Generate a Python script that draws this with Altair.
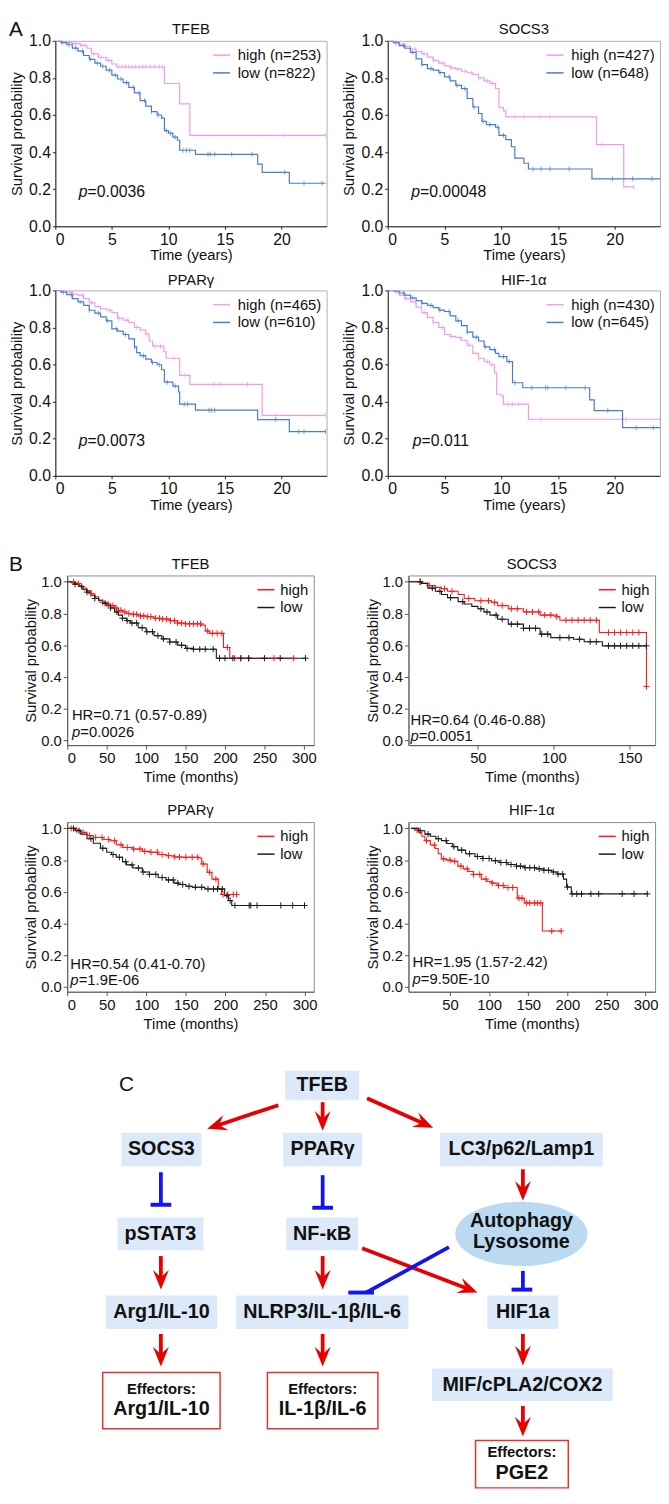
import altair as alt
import numpy as np
import pandas as pd

FONT = "Liberation Sans"

# ================= Panel A (time in years) =================
A_TFEB_HIGH_T = [0, 0.8, 1.5, 2.2, 2.8, 3.2, 3.8, 4.5, 5.0, 5.4, 9.65, 11.0, 11.9, 23.9]
A_TFEB_HIGH_S = [1.0, 0.99, 0.985, 0.975, 0.96, 0.93, 0.91, 0.895, 0.875, 0.86, 0.77, 0.66, 0.49, 0.49]
A_TFEB_LOW_T = [0, 0.5, 1.0, 1.5, 2.0, 2.5, 3.0, 3.5, 4.0, 4.5, 5.0, 5.5, 6.0, 6.5, 7.0, 7.5, 8.0, 8.5, 9.0, 9.4, 9.65, 10.0, 10.4, 10.8, 11.0, 12.4, 17.9, 18.3, 20.7, 23.9]
A_TFEB_LOW_S = [1.0, 0.99, 0.979, 0.961, 0.944, 0.921, 0.90, 0.88, 0.863, 0.842, 0.815, 0.794, 0.775, 0.749, 0.719, 0.678, 0.648, 0.618, 0.60, 0.583, 0.516, 0.502, 0.481, 0.464, 0.41, 0.388, 0.335, 0.291, 0.232, 0.232]
A_TFEB_HIGH_C = [1.2, 1.8, 2.3, 2.6, 3.4, 4.0, 4.7, 5.6, 5.9, 6.2, 6.5, 6.8, 7.1, 7.4, 7.7, 8.0, 8.4, 8.8, 9.2, 9.5, 20.2, 23.9]
A_TFEB_LOW_C = [0.6, 1.2, 1.8, 2.4, 3.1, 3.7, 4.2, 4.8, 5.3, 5.8, 6.3, 6.9, 7.4, 7.9, 8.5, 9.1, 9.8, 10.2, 10.6, 11.3, 11.6, 11.9, 13.5, 13.7, 14.1, 15.6, 17.4, 20.3, 22.0, 23.6]

A_SOCS3_HIGH_T = [0, 0.5, 1.0, 1.5, 2.0, 2.5, 3.0, 3.5, 4.0, 4.5, 5.0, 5.5, 6.0, 6.5, 7.0, 7.5, 8.0, 8.5, 9.0, 9.5, 9.8, 10.2, 10.4, 18.4, 20.8, 21.7]
A_SOCS3_HIGH_S = [1.0, 0.995, 0.982, 0.97, 0.956, 0.942, 0.93, 0.912, 0.895, 0.88, 0.865, 0.854, 0.847, 0.836, 0.828, 0.819, 0.80, 0.784, 0.771, 0.742, 0.64, 0.622, 0.59, 0.44, 0.212, 0.212]
A_SOCS3_LOW_T = [0, 0.5, 1.0, 1.5, 2.0, 2.5, 3.0, 3.5, 4.0, 4.5, 5.0, 5.5, 6.0, 6.5, 7.0, 7.5, 8.0, 8.3, 8.7, 9.5, 9.8, 10.4, 10.9, 11.2, 12.0, 12.4, 18.0, 24.0]
A_SOCS3_LOW_S = [1.0, 0.99, 0.974, 0.96, 0.938, 0.903, 0.872, 0.85, 0.842, 0.829, 0.806, 0.784, 0.76, 0.742, 0.689, 0.643, 0.608, 0.566, 0.548, 0.534, 0.49, 0.467, 0.429, 0.367, 0.34, 0.309, 0.256, 0.256]
A_SOCS3_HIGH_C = [0.8, 1.6, 2.4, 3.2, 4.0, 4.8, 5.6, 6.2, 6.8, 7.4, 8.0, 8.8, 9.2, 11.2, 12.0, 13.4, 14.3, 18.9, 21.7]
A_SOCS3_LOW_C = [0.7, 1.4, 2.2, 3.0, 3.8, 4.6, 5.4, 6.1, 6.8, 7.6, 8.4, 9.0, 9.7, 10.2, 12.8, 13.5, 14.3, 16.0, 19.8, 21.6, 23.3]

A_PPARG_HIGH_T = [0, 0.5, 1.0, 1.5, 2.0, 2.5, 3.0, 3.5, 4.0, 4.5, 5.0, 5.5, 6.0, 6.5, 7.0, 7.5, 8.0, 8.3, 8.6, 9.6, 9.8, 11.0, 11.9, 18.3, 23.9]
A_PPARG_HIGH_S = [1.0, 0.998, 0.989, 0.98, 0.974, 0.956, 0.933, 0.912, 0.901, 0.893, 0.88, 0.85, 0.84, 0.827, 0.80, 0.787, 0.766, 0.727, 0.699, 0.669, 0.634, 0.542, 0.493, 0.326, 0.326]
A_PPARG_LOW_T = [0, 0.5, 1.0, 1.5, 2.0, 2.5, 3.0, 3.5, 4.0, 4.5, 5.0, 5.5, 6.0, 6.5, 7.0, 7.2, 7.5, 8.0, 8.5, 9.0, 9.4, 9.65, 10.4, 10.9, 11.0, 12.4, 17.9, 20.7, 23.9]
A_PPARG_LOW_S = [1.0, 0.991, 0.977, 0.956, 0.938, 0.919, 0.893, 0.877, 0.857, 0.836, 0.792, 0.78, 0.762, 0.739, 0.695, 0.664, 0.648, 0.629, 0.611, 0.599, 0.572, 0.505, 0.484, 0.452, 0.387, 0.354, 0.303, 0.238, 0.238]
A_PPARG_HIGH_C = [0.8, 1.6, 2.4, 3.2, 4.0, 4.8, 5.6, 6.4, 7.2, 8.0, 8.8, 9.3, 10.5, 11.4, 14.0, 14.6, 17.0, 19.5, 23.9]
A_PPARG_LOW_C = [0.7, 1.4, 2.2, 3.0, 3.8, 4.6, 5.4, 6.2, 7.0, 7.8, 8.6, 9.2, 9.9, 10.6, 11.4, 11.7, 13.6, 13.8, 14.1, 19.5, 21.5, 22.0, 23.9]

A_HIF_HIGH_T = [0, 0.5, 1.0, 1.5, 2.0, 2.5, 3.0, 3.5, 4.0, 4.5, 5.0, 5.5, 6.0, 6.5, 7.0, 7.5, 8.0, 8.5, 9.0, 9.4, 9.6, 10.0, 10.2, 12.4, 24.0]
A_HIF_HIGH_S = [1.0, 0.995, 0.974, 0.956, 0.938, 0.91, 0.88, 0.854, 0.827, 0.80, 0.762, 0.752, 0.745, 0.731, 0.704, 0.66, 0.634, 0.616, 0.599, 0.555, 0.44, 0.431, 0.387, 0.305, 0.305]
A_HIF_LOW_T = [0, 0.5, 1.0, 1.5, 2.0, 2.5, 3.0, 3.5, 4.0, 4.5, 5.0, 5.5, 6.0, 6.5, 7.0, 7.5, 8.0, 8.5, 9.0, 9.5, 9.8, 10.5, 11.0, 11.9, 17.8, 18.2, 20.7, 24.0]
A_HIF_LOW_S = [1.0, 0.998, 0.986, 0.974, 0.96, 0.945, 0.93, 0.919, 0.907, 0.894, 0.886, 0.863, 0.836, 0.81, 0.775, 0.748, 0.727, 0.695, 0.681, 0.66, 0.643, 0.616, 0.502, 0.475, 0.41, 0.352, 0.26, 0.26]
A_HIF_HIGH_C = [0.8, 1.6, 2.4, 3.2, 4.0, 4.8, 5.6, 6.4, 7.2, 8.0, 8.8, 9.2, 10.6, 11.0, 11.5, 13.5, 21.0, 24.0]
A_HIF_LOW_C = [0.7, 1.4, 2.2, 3.0, 3.8, 4.6, 5.4, 6.2, 7.0, 7.8, 8.6, 9.4, 10.2, 10.7, 11.2, 12.7, 13.9, 14.1, 15.7, 17.4, 19.4, 21.9, 23.4]

# ================= Panel B (time in months) =================
B_TFEB_HIGH_T = [0, 5, 10, 15, 20, 25, 30, 35, 40, 45, 50, 55, 60, 65, 70, 75, 80, 90, 100, 110, 120, 130, 140, 150, 170, 175, 180, 198, 206, 287]
B_TFEB_HIGH_S = [1.0, 0.998, 0.99, 0.975, 0.96, 0.945, 0.925, 0.905, 0.885, 0.87, 0.86, 0.85, 0.835, 0.82, 0.81, 0.80, 0.795, 0.785, 0.78, 0.77, 0.765, 0.755, 0.74, 0.735, 0.727, 0.69, 0.675, 0.586, 0.518, 0.518]
B_TFEB_LOW_T = [0, 5, 10, 15, 20, 25, 30, 35, 40, 45, 50, 55, 60, 65, 70, 75, 80, 90, 100, 110, 120, 130, 140, 150, 160, 189, 302]
B_TFEB_LOW_S = [1.0, 0.995, 0.985, 0.97, 0.95, 0.935, 0.915, 0.895, 0.88, 0.865, 0.85, 0.835, 0.81, 0.79, 0.77, 0.755, 0.74, 0.71, 0.685, 0.66, 0.64, 0.62, 0.60, 0.58, 0.575, 0.518, 0.518]
B_TFEB_HIGH_C = [8, 14, 30, 45, 52, 58, 62, 68, 73, 78, 84, 88, 93, 97, 102, 106, 112, 117, 121, 126, 131, 136, 140, 145, 150, 155, 160, 165, 169, 178, 184, 190, 196, 203, 212, 220, 230, 262, 287]
B_TFEB_LOW_C = [10, 18, 25, 35, 48, 55, 63, 70, 76, 82, 88, 95, 101, 108, 115, 122, 130, 138, 145, 152, 160, 168, 175, 185, 193, 200, 210, 220, 230, 250, 270, 302]

B_SOCS3_HIGH_T = [4.3, 13, 17, 22, 26, 30, 37, 41, 48, 59, 63, 70, 80, 91, 102, 104, 130, 161]
B_SOCS3_HIGH_S = [1.0, 0.99, 0.976, 0.965, 0.956, 0.94, 0.92, 0.895, 0.88, 0.87, 0.85, 0.83, 0.81, 0.79, 0.78, 0.758, 0.68, 0.34]
B_SOCS3_LOW_T = [4.3, 13, 17, 22, 26, 30, 37, 41, 46, 50, 54, 58, 63, 70, 80, 91, 98, 113, 120, 132, 161]
B_SOCS3_LOW_S = [1.0, 0.99, 0.96, 0.94, 0.92, 0.90, 0.875, 0.86, 0.845, 0.83, 0.81, 0.79, 0.764, 0.733, 0.707, 0.67, 0.648, 0.638, 0.622, 0.596, 0.596]
B_SOCS3_HIGH_C = [12, 18, 28, 33, 44, 52, 57, 61, 66, 72, 76, 82, 86, 90, 94, 98, 102, 108, 112, 116, 120, 124, 128, 136, 140, 144, 148, 152, 156, 161]
B_SOCS3_LOW_C = [12, 20, 25, 32, 40, 52, 56, 62, 66, 72, 76, 80, 84, 88, 92, 96, 104, 110, 117, 124, 128, 136, 140, 144, 148, 152, 156, 161]

B_PPARG_HIGH_T = [0, 10, 17, 25, 33, 45, 54, 62, 70, 83, 95, 104, 115, 125, 135, 145, 166, 170, 177, 183, 191, 195, 214]
B_PPARG_HIGH_S = [1.0, 0.99, 0.975, 0.955, 0.943, 0.93, 0.922, 0.897, 0.88, 0.87, 0.855, 0.85, 0.835, 0.828, 0.82, 0.818, 0.813, 0.776, 0.723, 0.68, 0.618, 0.583, 0.583]
B_PPARG_LOW_T = [0, 10, 17, 25, 33, 42, 50, 56, 62, 70, 75, 83, 95, 104, 115, 125, 135, 141, 150, 158, 174, 199, 204, 208, 301]
B_PPARG_LOW_S = [1.0, 0.985, 0.964, 0.935, 0.906, 0.875, 0.85, 0.835, 0.818, 0.79, 0.77, 0.75, 0.725, 0.71, 0.69, 0.675, 0.655, 0.646, 0.635, 0.629, 0.618, 0.576, 0.545, 0.514, 0.514]
B_PPARG_HIGH_C = [5, 12, 20, 28, 36, 44, 52, 60, 68, 76, 84, 92, 98, 106, 114, 120, 128, 136, 142, 150, 158, 165, 172, 180, 188, 197, 203, 210, 214]
B_PPARG_LOW_C = [8, 15, 30, 45, 58, 66, 74, 82, 90, 96, 104, 112, 120, 128, 134, 140, 146, 154, 162, 170, 178, 185, 190, 196, 202, 206, 212, 230, 232, 240, 270, 285, 300]

B_HIF_HIGH_T = [0, 5, 10, 14, 18, 25, 31, 35, 39, 45, 52, 60, 67, 73, 80, 90, 97, 103, 110, 119, 136, 145, 168, 192]
B_HIF_HIGH_S = [1.0, 0.99, 0.974, 0.95, 0.923, 0.895, 0.873, 0.84, 0.808, 0.80, 0.792, 0.762, 0.745, 0.728, 0.71, 0.68, 0.665, 0.655, 0.64, 0.627, 0.56, 0.53, 0.353, 0.353]
B_HIF_LOW_T = [0, 10, 18, 25, 32, 39, 46, 53, 60, 70, 82, 92, 103, 113, 124, 135, 145, 160, 170, 180, 187, 195, 199, 205, 302]
B_HIF_LOW_S = [1.0, 0.985, 0.964, 0.95, 0.935, 0.923, 0.905, 0.885, 0.863, 0.84, 0.823, 0.81, 0.796, 0.785, 0.772, 0.762, 0.752, 0.745, 0.736, 0.725, 0.712, 0.68, 0.63, 0.587, 0.587]
B_HIF_HIGH_C = [8, 20, 30, 42, 50, 56, 64, 72, 80, 88, 96, 104, 112, 118, 124, 130, 138, 142, 148, 152, 158, 162, 166, 180, 192]
B_HIF_LOW_C = [12, 22, 35, 45, 55, 65, 75, 85, 92, 100, 108, 115, 122, 128, 135, 140, 146, 152, 158, 164, 170, 176, 182, 188, 194, 200, 206, 212, 218, 230, 240, 270, 285, 302]

Y_TICKS = [0.0, 0.2, 0.4, 0.6, 0.8, 1.0]
A_X_TICKS = [0, 5, 10, 15, 20]
B_X_TICKS = [0, 50, 100, 150, 200, 250, 300]
B_X_TICKS_SOCS3 = [50, 100, 150]
B_X_TICKS_HIF = [50, 100, 150, 200, 250, 300]

A_COLORS = ["#ee9cec", "#4a7cc7"]
B_COLORS = ["#ff1a1a", "#1a1a1a"]
CROSS = "M-1,0L1,0M0,-1L0,1"


def spacer(w):
    return alt.Chart(pd.DataFrame({"a": [0]})).mark_point(opacity=0).properties(
        width=w, height=1, view=alt.ViewBackground(stroke="transparent"))


def extent_marker(top, bottom):
    # invisible rule that fixes the vertical extent of a row
    return alt.Chart(pd.DataFrame({"a": [0]})).mark_rule(opacity=0, strokeWidth=0.01).encode(
        x=alt.value(0), y=alt.value(top), y2=alt.value(bottom))


def km_panel(kind, title, curves, censors, labels, colors, xdom, xticks, ann,
             width, height, ext, title_y, letter=None):
    if kind == "A":
        ydom = [0, 1.0]
        frame = "#b0b0b0"
        axc = "#222222"
        lfs = 16
        tick = 3
        lw = 1.2
        xtitle = "Time (years)"
        ytp = 4
        xtp = 1
        loff = 7
    else:
        ydom = [-0.03, 1.04]
        frame = "#8c8c8c"
        axc = "#555555"
        lfs = 15
        tick = 4
        lw = 1.1
        xtitle = "Time (months)"
        ytp = 2
        xtp = 4
        loff = 5

    rows, crow = [], []
    for (T, S), C, lab in zip(curves, censors, labels):
        rows.append(pd.DataFrame({"t": T, "s": S, "g": lab}))
        idx = np.searchsorted(np.array(T), np.array(C), side="right") - 1
        crow.append(pd.DataFrame({"t": C, "s": np.array(S)[idx], "g": lab}))
    line_df = pd.concat(rows, ignore_index=True)
    cens_df = pd.concat(crow, ignore_index=True)

    xs = alt.Scale(domain=xdom, nice=False, zero=False)
    ysc = alt.Scale(domain=ydom, nice=False, zero=False)
    xax = alt.Axis(values=xticks, title=xtitle, labelFontSize=lfs, titleFontSize=15,
                   tickSize=tick, labelPadding=2, titlePadding=xtp, domainColor=axc,
                   tickColor=axc, grid=False, labelFont=FONT, titleFont=FONT,
                   titleFontWeight="normal", labelColor="#111111", titleColor="#111111")
    yax = alt.Axis(values=Y_TICKS, format=".1f", title="Survival probability",
                   labelFontSize=lfs, titleFontSize=15, tickSize=tick, labelPadding=2,
                   titlePadding=ytp, domainColor=axc, tickColor=axc, grid=False,
                   labelFont=FONT, titleFont=FONT, titleFontWeight="normal",
                   labelColor="#111111", titleColor="#111111")
    X = alt.X("t:Q", scale=xs, axis=xax)
    Y = alt.Y("s:Q", scale=ysc, axis=yax)
    cscale = alt.Scale(domain=labels, range=colors)

    legend = alt.Legend(orient="top-right", offset=5, padding=0, labelFontSize=15,
                        labelFont=FONT, labelColor="#111111", symbolType="stroke",
                        symbolSize=300, symbolStrokeWidth=1.5, labelOffset=loff,
                        rowPadding=0)
    lines = alt.Chart(line_df).mark_line(interpolate="step-after", strokeWidth=lw,
                                          clip=True).encode(
        X, Y, color=alt.Color("g:N", scale=cscale, title=None, legend=legend))
    if kind == "A":
        cmark = alt.Chart(cens_df).mark_tick(orient="vertical", size=5, thickness=1,
                                              clip=True)
    else:
        cmark = alt.Chart(cens_df).mark_point(shape=CROSS, size=40, filled=False,
                                               strokeWidth=1, opacity=1, clip=True)
    cens = cmark.encode(X, Y, color=alt.Color("g:N", scale=cscale, legend=None))

    layers = [lines, cens]
    fs = 16 if kind == "A" else 15
    pdx = 9 if kind == "A" else 8.5
    if kind == "B":
        layers.append(alt.Chart(pd.DataFrame({"t": [ann["x"]], "s": [ann["hy"]],
                                              "txt": [ann["hr"]]})).mark_text(
            align="left", baseline="middle", fontSize=fs, font=FONT, color="#111111"
        ).encode(X, Y, text="txt:N"))
    layers.append(alt.Chart(pd.DataFrame({"t": [ann["x"]], "s": [ann["py"]],
                                          "txt": ["p"]})).mark_text(
        align="left", baseline="middle", fontSize=fs, font=FONT, fontStyle="italic",
        color="#111111").encode(X, Y, text="txt:N"))
    layers.append(alt.Chart(pd.DataFrame({"t": [ann["x"]], "s": [ann["py"]],
                                          "txt": [ann["p"]]})).mark_text(
        align="left", baseline="middle", fontSize=fs, font=FONT, dx=pdx,
        color="#111111").encode(X, Y, text="txt:N"))
    # panel title
    layers.append(alt.Chart(pd.DataFrame({"txt": [title]})).mark_text(
        align="center", baseline="middle", fontSize=15, font=FONT, color="#111111"
    ).encode(x=alt.value(width / 2), y=alt.value(title_y), text="txt:N"))
    if letter is not None:
        layers.append(alt.Chart(pd.DataFrame({"txt": [letter[0]]})).mark_text(
            align="left", baseline="top", fontSize=21, font=FONT, color="#111111"
        ).encode(x=alt.value(letter[1]), y=alt.value(letter[2]), text="txt:N"))
    layers.append(extent_marker(ext[0], ext[1]))

    return alt.layer(*layers).properties(
        width=width, height=height,
        view=alt.ViewBackground(stroke=frame, strokeWidth=1))


AW1, AW2, AH = 275, 276, 188
BW, BH = 250, 172
EXT_A1 = (-22, 228)
EXT_A2 = (-23, 238)
EXT_B1 = (-49, 220)
EXT_B2 = (-28, 222)

a_tfeb = km_panel("A", "TFEB",
                  [(A_TFEB_HIGH_T, A_TFEB_HIGH_S), (A_TFEB_LOW_T, A_TFEB_LOW_S)],
                  [A_TFEB_HIGH_C, A_TFEB_LOW_C], ["high (n=253)", "low (n=822)"],
                  A_COLORS, [0, 24], A_X_TICKS, {"x": 2.07, "py": 0.185, "p": "=0.0036"},
                  AW1, AH, EXT_A1, -12, letter=("A", -47, -22))
a_socs3 = km_panel("A", "SOCS3",
                   [(A_SOCS3_HIGH_T, A_SOCS3_HIGH_S), (A_SOCS3_LOW_T, A_SOCS3_LOW_S)],
                   [A_SOCS3_HIGH_C, A_SOCS3_LOW_C], ["high (n=427)", "low (n=648)"],
                   A_COLORS, [0, 24], A_X_TICKS, {"x": 2.06, "py": 0.185, "p": "=0.00048"},
                   AW2, AH, EXT_A1, -12)
a_pparg = km_panel("A", "PPARγ",
                   [(A_PPARG_HIGH_T, A_PPARG_HIGH_S), (A_PPARG_LOW_T, A_PPARG_LOW_S)],
                   [A_PPARG_HIGH_C, A_PPARG_LOW_C], ["high (n=465)", "low (n=610)"],
                   A_COLORS, [0, 24], A_X_TICKS, {"x": 2.07, "py": 0.185, "p": "=0.0073"},
                   AW1, AH, EXT_A2, -10)
a_hif = km_panel("A", "HIF-1α",
                 [(A_HIF_HIGH_T, A_HIF_HIGH_S), (A_HIF_LOW_T, A_HIF_LOW_S)],
                 [A_HIF_HIGH_C, A_HIF_LOW_C], ["high (n=430)", "low (n=645)"],
                 A_COLORS, [0, 24], A_X_TICKS, {"x": 2.2, "py": 0.185, "p": "=0.011"},
                 AW2, AH, EXT_A2, -10)

b_tfeb = km_panel("B", "TFEB",
                  [(B_TFEB_HIGH_T, B_TFEB_HIGH_S), (B_TFEB_LOW_T, B_TFEB_LOW_S)],
                  [B_TFEB_HIGH_C, B_TFEB_LOW_C], ["high", "low"], B_COLORS,
                  [0, 312.5], B_X_TICKS,
                  {"x": 6, "hy": 0.16, "py": 0.05, "hr": "HR=0.71 (0.57-0.89)", "p": "=0.0026"},
                  BW, BH, EXT_B1, -12, letter=("B", -59, -22))
b_socs3 = km_panel("B", "SOCS3",
                   [(B_SOCS3_HIGH_T, B_SOCS3_HIGH_S), (B_SOCS3_LOW_T, B_SOCS3_LOW_S)],
                   [B_SOCS3_HIGH_C, B_SOCS3_LOW_C], ["high", "low"], B_COLORS,
                   [4.3, 166.7], B_X_TICKS_SOCS3,
                   {"x": 5.6, "hy": 0.13, "py": 0.025, "hr": "HR=0.64 (0.46-0.88)", "p": "=0.0051"},
                   BW, BH, EXT_B1, -12)
b_pparg = km_panel("B", "PPARγ",
                   [(B_PPARG_HIGH_T, B_PPARG_HIGH_S), (B_PPARG_LOW_T, B_PPARG_LOW_S)],
                   [B_PPARG_HIGH_C, B_PPARG_LOW_C], ["high", "low"], B_COLORS,
                   [0, 311.7], B_X_TICKS,
                   {"x": 4, "hy": 0.145, "py": 0.044, "hr": "HR=0.54 (0.41-0.70)", "p": "=1.9E-06"},
                   BW, BH, EXT_B2, -12)
b_hif = km_panel("B", "HIF-1α",
                 [(B_HIF_HIGH_T, B_HIF_HIGH_S), (B_HIF_LOW_T, B_HIF_LOW_S)],
                 [B_HIF_HIGH_C, B_HIF_LOW_C], ["high", "low"], B_COLORS,
                 [-3, 312], B_X_TICKS_HIF,
                 {"x": 2.1, "hy": 0.157, "py": 0.048, "hr": "HR=1.95 (1.57-2.42)", "p": "=9.50E-10"},
                 BW, BH, EXT_B2, -12)

# ================= Panel C (pathway diagram) =================
NODE_LABEL = ["TFEB", "SOCS3", "PPARγ", "LC3/p62/Lamp1", "pSTAT3", "NF-κB",
              "Arg1/IL-10", "NLRP3/IL-1β/IL-6", "HIF1a", "MIF/cPLA2/COX2"]
NODE_X = [325.5, 162.5, 326, 527.5, 161.5, 325.5, 162.5, 325.5, 529, 528.5]
NODE_Y = [1085, 1150, 1150, 1150, 1235.5, 1235.5, 1315, 1315, 1315, 1388.5]
NODE_W = [75, 81, 80, 165, 87, 73, 113, 175, 72, 183]
NODE_H = [30, 34, 34, 34, 33, 33, 34, 34, 34, 33]

ELL_X, ELL_Y, ELL_W, ELL_H = 527.5, 1235.5, 134, 65
ELL_TEXT = ["Autophagy", "Lysosome"]
ELL_TEXT_Y = [1223, 1244]

EFF_X = [162.5, 326, 528]
EFF_Y = [1404.5, 1404.5, 1469]
EFF_W = [119, 112, 94]
EFF_H = [57, 57, 48]
EFF_HEAD = ["Effectors:", "Effectors:", "Effectors:"]
EFF_LINE2 = ["Arg1/IL-10", "IL-1β/IL-6", "PGE2"]

ACT_X1 = [281, 326, 371, 529, 162, 326, 366, 162, 326, 529, 529]
ACT_Y1 = [1105, 1102, 1098, 1170, 1258, 1258, 1250, 1337, 1337, 1337, 1410]
ACT_X2 = [209, 326, 438, 529, 162, 326, 483, 162, 326, 529, 529]
ACT_Y2 = [1129, 1131, 1128, 1202, 1292, 1292, 1295, 1370, 1370, 1369, 1441]

INH_X1 = [162, 326, 454, 529]
INH_Y1 = [1173, 1176, 1249, 1273]
INH_X2 = [162, 326, 370, 529]
INH_Y2 = [1206, 1209, 1295, 1292]
INH_BAR_CX = [162, 326, 365, 528]
INH_BAR_HALF = [10.5, 10.5, 13, 10.5]

RED = "#e60000"
BLUE = "#1414f0"
BOX_FILL = "#dce9f8"
ELL_FILL = "#bcd9f2"
ARROW = "M0,1L-0.65,-0.6L0,0L0.65,-0.6Z"
HEAD_SIDE = 25
ELLIPSE = "M-1,0A1,0.485,0,1,1,1,0A1,0.485,0,1,1,-1,0Z"

DW, DH = 600, 426
dxs = alt.Scale(domain=[55, 655], nice=False, zero=False)
dys = alt.Scale(domain=[1068, 1494], nice=False, zero=False, reverse=True)

nodes = pd.DataFrame({"label": NODE_LABEL, "cx": NODE_X, "cy": NODE_Y, "w": NODE_W, "h": NODE_H})
nodes["x1"] = nodes.cx - nodes.w / 2
nodes["x2"] = nodes.cx + nodes.w / 2
nodes["y1"] = nodes.cy - nodes.h / 2
nodes["y2"] = nodes.cy + nodes.h / 2

eff = pd.DataFrame({"cx": EFF_X, "cy": EFF_Y, "w": EFF_W, "h": EFF_H,
                    "head": EFF_HEAD, "line2": EFF_LINE2})
eff["x1"] = eff.cx - eff.w / 2
eff["x2"] = eff.cx + eff.w / 2
eff["y1"] = eff.cy - eff.h / 2
eff["y2"] = eff.cy + eff.h / 2
eff["hy"] = eff.cy - 12
eff["ly"] = eff.cy + 9

act = pd.DataFrame({"x1": ACT_X1, "y1": ACT_Y1, "x2": ACT_X2, "y2": ACT_Y2})
ddx = act.x2 - act.x1
ddy = act.y2 - act.y1
dl = np.hypot(ddx, ddy)
act["lx"] = act.x2 - ddx / dl * 10
act["ly"] = act.y2 - ddy / dl * 10
act["hx"] = act.x2 - ddx / dl * (HEAD_SIDE / 2)
act["hy"] = act.y2 - ddy / dl * (HEAD_SIDE / 2)
act["ang"] = (np.degrees(np.arctan2(-ddx, ddy)) + 360) % 360

inh = pd.DataFrame({"x1": INH_X1, "y1": INH_Y1, "x2": INH_X2, "y2": INH_Y2,
                    "bc": INH_BAR_CX, "bh": INH_BAR_HALF})
inh["bx1"] = inh.bc - inh.bh
inh["bx2"] = inh.bc + inh.bh

ell = pd.DataFrame({"cx": [ELL_X], "cy": [ELL_Y]})
ell_txt = pd.DataFrame({"cx": [ELL_X, ELL_X], "cy": ELL_TEXT_Y, "t": ELL_TEXT})


def DX(f):
    return alt.X(f, scale=dxs, axis=None)


def DY(f):
    return alt.Y(f, scale=dys, axis=None)


d_boxes = alt.Chart(nodes).mark_rect(fill=BOX_FILL).encode(
    x=DX("x1:Q"), x2="x2:Q", y=DY("y1:Q"), y2="y2:Q")
d_eff = alt.Chart(eff).mark_rect(fill="white", stroke="#e23434", strokeWidth=1.5).encode(
    x=DX("x1:Q"), x2="x2:Q", y=DY("y1:Q"), y2="y2:Q")
d_ell = alt.Chart(ell).mark_point(shape=ELLIPSE, size=ELL_W ** 2, filled=True,
                                   fill=ELL_FILL, opacity=1, strokeWidth=0).encode(
    x=DX("cx:Q"), y=DY("cy:Q"))
d_red = alt.Chart(act).mark_rule(color=RED, strokeWidth=3.8).encode(
    x=DX("x1:Q"), y=DY("y1:Q"), x2="lx:Q", y2="ly:Q")
d_head = alt.Chart(act).mark_point(shape=ARROW, size=HEAD_SIDE ** 2, filled=True, fill=RED,
                                    opacity=1, strokeWidth=0).encode(
    x=DX("hx:Q"), y=DY("hy:Q"), angle=alt.Angle("ang:Q", scale=None))
d_blue = alt.Chart(inh).mark_rule(color=BLUE, strokeWidth=3.8).encode(
    x=DX("x1:Q"), y=DY("y1:Q"), x2="x2:Q", y2="y2:Q")
d_bar = alt.Chart(inh).mark_rule(color=BLUE, strokeWidth=4).encode(
    x=DX("bx1:Q"), y=DY("y2:Q"), x2="bx2:Q")
d_ntext = alt.Chart(nodes).mark_text(font=FONT, fontWeight="bold", fontSize=20,
                                     color="#111111", baseline="middle").encode(
    x=DX("cx:Q"), y=DY("cy:Q"), text="label:N")
d_etext = alt.Chart(ell_txt).mark_text(font=FONT, fontWeight="bold", fontSize=20,
                                       color="#111111", baseline="middle").encode(
    x=DX("cx:Q"), y=DY("cy:Q"), text="t:N")
d_eh = alt.Chart(eff).mark_text(font=FONT, fontWeight="bold", fontSize=15,
                                color="#111111", baseline="middle").encode(
    x=DX("cx:Q"), y=DY("hy:Q"), text="head:N")
d_el = alt.Chart(eff).mark_text(font=FONT, fontWeight="bold", fontSize=20,
                                color="#111111", baseline="middle").encode(
    x=DX("cx:Q"), y=DY("ly:Q"), text="line2:N")
d_c = alt.Chart(pd.DataFrame({"cx": [127], "cy": [1085], "t": ["C"]})).mark_text(
    font=FONT, fontSize=21, color="#111111", baseline="middle").encode(
    x=DX("cx:Q"), y=DY("cy:Q"), text="t:N")

diagram = alt.layer(d_boxes, d_eff, d_ell, d_red, d_head, d_blue, d_bar,
                    d_ntext, d_etext, d_eh, d_el, d_c, extent_marker(-26, DH)).properties(
    width=DW, height=DH, view=alt.ViewBackground(stroke="transparent"))

# ================= Assemble =================
rowA1 = alt.hconcat(a_tfeb, spacer(62), a_socs3, spacing=0, bounds="flush").resolve_scale(color="independent")
rowA2 = alt.hconcat(a_pparg, spacer(62), a_hif, spacing=0, bounds="flush").resolve_scale(color="independent")
rowB1 = alt.hconcat(spacer(12), b_tfeb, spacer(96), b_socs3, spacing=0, bounds="flush").resolve_scale(color="independent")
rowB2 = alt.hconcat(spacer(12), b_pparg, spacer(96), b_hif, spacing=0, bounds="flush").resolve_scale(color="independent")

chart = alt.vconcat(rowA1, rowA2, rowB1, rowB2, diagram, spacing=0).resolve_scale(
    color="independent").properties(padding=0).configure_view(
    stroke="transparent").configure_axis(grid=False, labelFont=FONT, titleFont=FONT).configure_title(
    font=FONT).configure_legend(labelFont=FONT)

chart.save("out.html", embed_options={"renderer": "svg", "actions": False})
